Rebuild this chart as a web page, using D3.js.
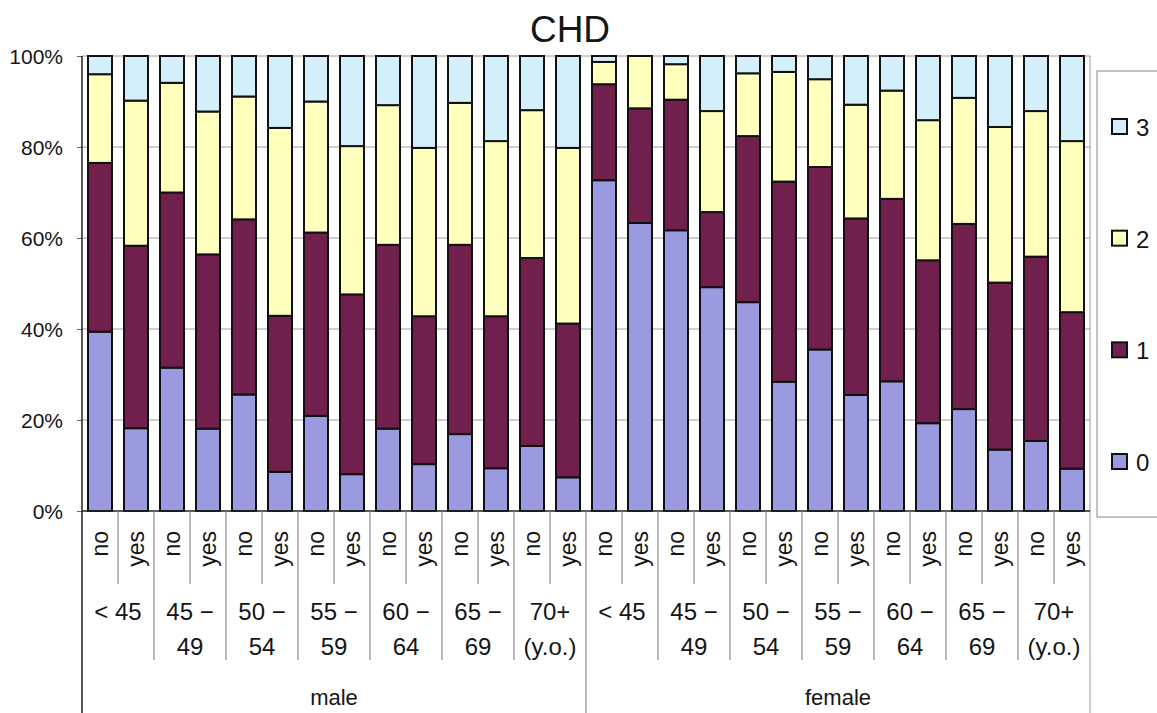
<!DOCTYPE html>
<html>
<head>
<meta charset="utf-8">
<script src="https://cdn.jsdelivr.net/npm/d3@7"></script>
<style>
body { margin: 0; background: #fff; }
text { font-family: "Liberation Sans", Arial, sans-serif; fill: #151515; }
</style>
</head>
<body>
<script>
var w = 1157;
var h = 713;

// data (percent of each bar, per CHD score)
var sexes = ["male", "female"];
var ageGroups = [["< 45"], ["45 \u2212", "49"], ["50 \u2212", "54"], ["55 \u2212", "59"],
                 ["60 \u2212", "64"], ["65 \u2212", "69"], ["70+", "(y.o.)"]];
var answers = ["no", "yes"];
var keys = ["0", "1", "2", "3"];

var score0 = [39.4, 18.2, 31.5, 18.1, 25.6, 8.6, 20.9, 8.1, 18.1, 10.3, 16.9, 9.4, 14.3, 7.4,
              72.7, 63.3, 61.7, 49.2, 45.9, 28.4, 35.5, 25.5, 28.5, 19.3, 22.4, 13.5, 15.4, 9.3];
var score1 = [37.1, 40.1, 38.5, 38.3, 38.5, 34.3, 40.3, 39.5, 40.4, 32.5, 41.6, 33.4, 41.3, 33.8,
              21.1, 25.2, 28.7, 16.5, 36.5, 44.0, 40.1, 38.8, 40.1, 35.8, 40.7, 36.7, 40.5, 34.4];
var score2 = [19.5, 31.9, 24.1, 31.4, 27.0, 41.3, 28.8, 32.6, 30.7, 37.0, 31.2, 38.5, 32.5, 38.6,
              4.9, 11.5, 7.8, 22.2, 13.8, 24.1, 19.3, 25.0, 23.8, 30.8, 27.7, 34.2, 32.0, 37.6];
var score3 = [4.0, 9.8, 5.9, 12.2, 8.9, 15.8, 10.0, 19.8, 10.8, 20.2, 10.3, 18.7, 11.9, 20.2,
              1.3, 0.0, 1.8, 12.1, 3.8, 3.5, 5.1, 10.7, 7.6, 14.1, 9.2, 15.6, 12.1, 18.7];

var yTicks = [0, 20, 40, 60, 80, 100];

var color = d3.scaleOrdinal().domain(keys)
    .range(["#9a9ae0", "#711f4c", "#ffffbe", "#d3eff9"]);

// one row per bar
var rows = [];
sexes.forEach(function(s, si) {
    ageGroups.forEach(function(a, ai) {
        answers.forEach(function(c, ci) {
            var i = rows.length;
            rows.push({ id: i, sex: s, age: ai, answer: c,
                "0": score0[i], "1": score1[i], "2": score2[i], "3": score3[i] });
        });
    });
});

var pLeft = 82, pRight = 1090, pTop = 56, pBottom = 511;

var svg = d3.select("body").append("svg")
    .attr("width", w)
    .attr("height", h);

var x = d3.scaleBand()
    .domain(rows.map(function(d) { return d.id; }))
    .range([pLeft, pRight])
    .paddingInner(1 / 3)
    .paddingOuter(1 / 6);
var step = x.step();

var y = d3.scaleLinear().domain([0, 100]).range([pBottom, pTop]);

// title
svg.append("text")
    .attr("x", 570).attr("y", 42)
    .attr("text-anchor", "middle")
    .style("font-size", "37px")
    .text("CHD");

// grid lines
svg.selectAll(".grid")
    .data(yTicks.slice(1))
    .enter().append("line")
    .attr("x1", pLeft).attr("x2", pRight)
    .attr("y1", function(d) { return y(d); })
    .attr("y2", function(d) { return y(d); })
    .attr("stroke", "#a0a0a0")
    .attr("stroke-width", 1);

// y axis
var yAxis = svg.append("g")
    .attr("transform", "translate(" + pLeft + ",0)")
    .call(d3.axisLeft(y).tickValues(yTicks).tickSize(5)
        .tickFormat(function(d) { return d + "%"; }));
yAxis.select(".domain").remove();
yAxis.selectAll("line").attr("stroke", "#666");
yAxis.selectAll("text")
    .attr("x", -19)
    .attr("dy", "0.36em")
    .style("font-size", "21px")
    .style("font-family", "'Liberation Sans', Arial, sans-serif")
    .style("fill", "#151515");

// stacked bars
var series = d3.stack().keys(keys)(rows);

svg.selectAll(".serie")
    .data(series)
    .enter().append("g")
    .attr("fill", function(d) { return color(d.key); })
    .selectAll("rect")
    .data(function(d) { return d; })
    .enter().append("rect")
    .attr("x", function(d) { return x(d.data.id); })
    .attr("width", x.bandwidth())
    .attr("y", function(d) { return y(d[1]); })
    .attr("height", function(d) { return y(d[0]) - y(d[1]); })
    .attr("stroke", "#111")
    .attr("stroke-width", 2);

// right border of plot area
svg.append("line")
    .attr("x1", pRight).attr("x2", pRight)
    .attr("y1", pTop).attr("y2", h)
    .attr("stroke", "#999");

// axes lines
svg.append("line")
    .attr("x1", pLeft).attr("x2", pLeft)
    .attr("y1", pTop).attr("y2", h)
    .attr("stroke", "#222").attr("stroke-width", 1.5);
svg.append("line")
    .attr("x1", pLeft).attr("x2", pRight)
    .attr("y1", pBottom).attr("y2", pBottom)
    .attr("stroke", "#222").attr("stroke-width", 1.5);

// category dividers (three levels)
var bounds = d3.range(1, rows.length);
svg.selectAll(".div")
    .data(bounds)
    .enter().append("line")
    .attr("x1", function(k) { return pLeft + k * step; })
    .attr("x2", function(k) { return pLeft + k * step; })
    .attr("y1", pBottom)
    .attr("y2", function(k) {
        if (k % 14 == 0) return h;
        if (k % 2 == 0) return 660;
        return 584;
    })
    .attr("stroke", "#777")
    .attr("stroke-width", 1);

// no / yes labels
svg.selectAll(".ans")
    .data(rows)
    .enter().append("text")
    .attr("transform", function(d) {
        return "translate(" + (x(d.id) + x.bandwidth() / 2 + 8) + ",531) rotate(-90)";
    })
    .attr("text-anchor", "end")
    .style("font-size", "23px")
    .text(function(d) { return d.answer; });

// age group labels
var groups = [];
sexes.forEach(function(s, si) {
    ageGroups.forEach(function(a, ai) { groups.push({ sex: si, age: ai, lines: a }); });
});
var gl = svg.selectAll(".age")
    .data(groups)
    .enter().append("text")
    .attr("text-anchor", "middle")
    .style("font-size", "24px");
gl.selectAll("tspan")
    .data(function(d, i) {
        var cx = pLeft + (i * 2 + 1) * step;
        return d.lines.map(function(t, j) { return { t: t, cx: cx, j: j }; });
    })
    .enter().append("tspan")
    .attr("x", function(d) { return d.cx; })
    .attr("y", function(d) { return 620 + d.j * 35; })
    .text(function(d) { return d.t; });

// sex labels
svg.selectAll(".sex")
    .data(sexes)
    .enter().append("text")
    .attr("x", function(d, i) { return pLeft + (i * 14 + 7) * step; })
    .attr("y", 705)
    .attr("text-anchor", "middle")
    .style("font-size", "22px")
    .text(function(d) { return d; });

// legend
var lg = svg.append("g");
lg.append("rect")
    .attr("x", 1097).attr("y", 71)
    .attr("width", 80).attr("height", 446)
    .attr("fill", "none")
    .attr("stroke", "#888");
var legendY = d3.scalePoint().domain(keys.slice().reverse()).range([127, 462]);
var li = lg.selectAll(".item")
    .data(keys)
    .enter().append("g")
    .attr("transform", function(d) { return "translate(1112," + legendY(d) + ")"; });
li.append("rect")
    .attr("x", 0).attr("y", -8)
    .attr("width", 15).attr("height", 15)
    .attr("fill", function(d) { return color(d); })
    .attr("stroke", "#111")
    .attr("stroke-width", 2);
li.append("text")
    .attr("x", 24).attr("y", 9)
    .style("font-size", "24px")
    .text(function(d) { return d; });
</script>
</body>
</html>
